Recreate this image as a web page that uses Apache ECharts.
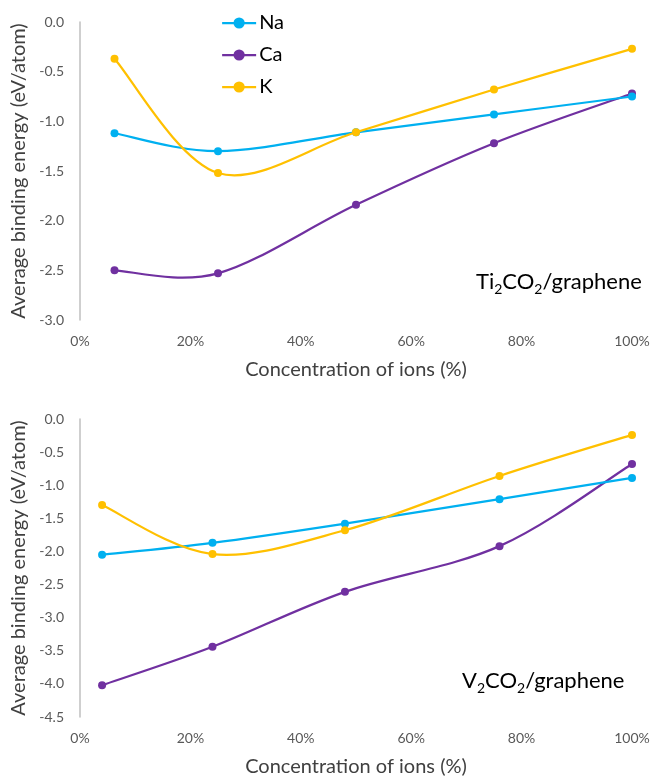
<!DOCTYPE html>
<html>
<head>
<meta charset="utf-8">
<script src="https://cdn.jsdelivr.net/npm/echarts@6/dist/echarts.min.js"></script>
<style>
  html, body { margin: 0; padding: 0; background: #fff; }
  #chart { width: 654px; height: 778px; }
</style>
</head>
<body>
<div id="chart"></div>
<script>
// concentration of ions (%)
const xTi = [6.25, 25, 50, 75, 100];
const xV = [4, 24, 48, 76, 100];

// average binding energy (eV/atom), Ti2CO2/graphene
const naTi = [-1.12, -1.30, -1.11, -0.93, -0.75];
const caTi = [-2.50, -2.53, -1.84, -1.22, -0.72];
const kTi = [-0.37, -1.52, -1.11, -0.68, -0.27];

// V2CO2/graphene
const naV = [-2.05, -1.87, -1.58, -1.21, -0.89];
const caV = [-4.02, -3.44, -2.61, -1.92, -0.68];
const kV = [-1.30, -2.04, -1.68, -0.86, -0.24];

const ionNames = ['Na', 'Ca', 'K'];
const ionColors = ['#00b0f0', '#7030a0', '#ffc000'];

const font = 'Lato, "Open Sans", sans-serif';

const chart = echarts.init(document.getElementById('chart'));

function pairs(xs, ys) {
  return xs.map((x, i) => [x, ys[i]]);
}

// excel-like smoothed line: catmull-rom segments drawn as beziers in pixel space
function smoothCurve(data, color) {
  return function (params, api) {
    if (params.dataIndex !== 0) return null;
    const p = data.map(d => api.coord(d));
    const n = p.length;
    const segs = [];
    for (let i = 0; i < n - 1; i++) {
      const p0 = p[Math.max(i - 1, 0)];
      const p1 = p[i];
      const p2 = p[i + 1];
      const p3 = p[Math.min(i + 2, n - 1)];
      segs.push({
        type: 'bezierCurve',
        shape: {
          x1: p1[0], y1: p1[1],
          x2: p2[0], y2: p2[1],
          cpx1: p1[0] + (p2[0] - p0[0]) / 6,
          cpy1: p1[1] + (p2[1] - p0[1]) / 6,
          cpx2: p2[0] - (p3[0] - p1[0]) / 6,
          cpy2: p2[1] - (p3[1] - p1[1]) / 6
        },
        style: { stroke: color, lineWidth: 2.25, fill: null, lineCap: 'round' }
      });
    }
    return { type: 'group', children: segs };
  };
}

function makeSeries(name, color, xs, ys, idx) {
  const data = pairs(xs, ys);
  const zz = name === 'K' ? 4 : (name === 'Na' ? 3 : 2);
  return [
    {
      type: 'custom',
      xAxisIndex: idx,
      yAxisIndex: idx,
      data: data,
      encode: { x: 0, y: 1 },
      renderItem: smoothCurve(data, color),
      silent: true,
      z: zz
    },
    {
      name: name,
      type: 'line',
      xAxisIndex: idx,
      yAxisIndex: idx,
      data: data,
      symbol: 'circle',
      symbolSize: 8,
      lineStyle: { width: 2.25, color: color, opacity: 0 },
      itemStyle: { color: color },
      z: zz
    }
  ];
}

function xAxisOpt(idx) {
  return {
    type: 'value',
    gridIndex: idx,
    min: 0,
    max: 100,
    interval: 20,
    axisLine: { show: false },
    axisTick: { show: false },
    splitLine: { show: false },
    axisLabel: { formatter: '{value}%', color: '#595959', fontSize: 14, fontFamily: font, margin: 14 },
    name: 'Concentration of ions (%)',
    nameLocation: 'middle',
    nameGap: 40,
    nameTextStyle: { color: '#404040', fontSize: 20, fontFamily: font }
  };
}

function yAxisOpt(idx, min) {
  return {
    type: 'value',
    gridIndex: idx,
    min: min,
    max: 0,
    interval: 0.5,
    axisLine: { show: true, onZero: false, lineStyle: { color: '#bfbfbf', width: 1.5 } },
    axisTick: { show: false },
    splitLine: { show: false },
    axisLabel: {
      formatter: v => v.toFixed(1),
      color: '#595959', fontSize: 14, fontFamily: font, margin: 16
    },
    name: 'Average binding energy (eV/atom)',
    nameLocation: 'middle',
    nameGap: 46,
    nameTextStyle: { color: '#404040', fontSize: 20, fontFamily: font }
  };
}

function labelText(left, top, text) {
  return {
    type: 'text',
    left: left,
    top: top,
    style: {
      text: text,
      fontFamily: font,
      fill: '#000',
      rich: {
        n: { fontSize: 22, lineHeight: 30, fontFamily: font, color: '#000' },
        s: { fontSize: 14, padding: [15, 0, 0, 0], verticalAlign: 'top', fontFamily: font, color: '#000' }
      }
    }
  };
}

const option = {
  backgroundColor: '#fff',
  animation: false,
  legend: {
    data: ionNames,
    orient: 'vertical',
    left: 216,
    top: 8,
    itemWidth: 34,
    itemHeight: 14,
    itemGap: 12,
    lineStyle: { opacity: 1, width: 2.25 },
    textStyle: { fontSize: 20, color: '#000', fontFamily: font, padding: [0, 0, 0, -2] }
  },
  grid: [
    { left: 80, right: 22, top: 22, bottom: 458 },
    { left: 80, right: 22, top: 419, bottom: 61 }
  ],
  xAxis: [xAxisOpt(0), xAxisOpt(1)],
  yAxis: [yAxisOpt(0, -3), yAxisOpt(1, -4.5)],
  series: [].concat(
    makeSeries('Na', ionColors[0], xTi, naTi, 0),
    makeSeries('Ca', ionColors[1], xTi, caTi, 0),
    makeSeries('K', ionColors[2], xTi, kTi, 0),
    makeSeries('Na', ionColors[0], xV, naV, 1),
    makeSeries('Ca', ionColors[1], xV, caV, 1),
    makeSeries('K', ionColors[2], xV, kV, 1)
  ),
  graphic: [
    labelText(476, 271, '{n|Ti}{s|2}{n|CO}{s|2}{n|/graphene}'),
    labelText(462, 670, '{n|V}{s|2}{n|CO}{s|2}{n|/graphene}')
  ]
};

chart.setOption(option);
</script>
</body>
</html>
